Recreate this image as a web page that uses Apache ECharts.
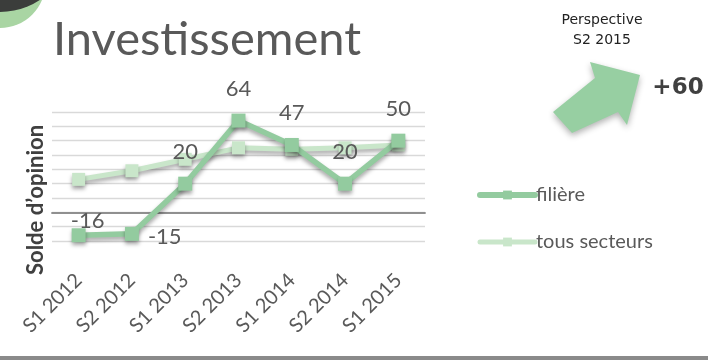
<!DOCTYPE html>
<html>
<head>
<meta charset="utf-8">
<script src="https://cdn.jsdelivr.net/npm/echarts@6/dist/echarts.min.js"></script>
<style>
  html, body { margin: 0; padding: 0; background: #fff; }
  #chart { width: 708px; height: 360px; }
</style>
</head>
<body>
<div id="chart"></div>
<script>
// Semesters on the horizontal axis
const periods = ['S1 2012', 'S2 2012', 'S1 2013', 'S2 2013', 'S1 2014', 'S2 2014', 'S1 2015'];
// Opinion balance for the sector
const filiere = [-16, -15, 20, 64, 47, 20, 50];
// Opinion balance across all sectors
const tousSecteurs = [23, 29, 37, 45, 44, 45, 47];
// Outlook for the next semester
const perspectiveLabel = 'Perspective\nS2 2015';
const perspectiveValue = '+60';

const GREEN = '#93cb9f';
const LIGHT = '#c9e6ca';
const TEXT = '#595959';
const AXIS = '#8a8a8a';
const FONT = 'Lato, "Noto Sans", sans-serif';

// plot area and value range
const GRID = { left: 52, right: 283, top: 112, bottom: 119 };
const Y_MIN = -20, Y_MAX = 70;
const CHART_H = 360;
// distance from the top of the plot down to the zero line
const zeroDrop = (CHART_H - GRID.top - GRID.bottom) * Y_MAX / (Y_MAX - Y_MIN);

const chart = echarts.init(document.getElementById('chart'), null, { renderer: 'canvas' });

const shadow = { shadowColor: 'rgba(0,0,0,0.35)', shadowBlur: 4, shadowOffsetY: 3 };

// label placement tweaks for the two negative points
const filiereData = filiere.map((v, i) => {
  if (i === 0) return { value: v, label: { position: 'top', distance: 2, offset: [9, 6] } };
  if (i === 1) return { value: v, label: { position: 'right', distance: 9, offset: [0, 3] } };
  return v;
});

chart.setOption({
  animation: false,
  title: {
    text: 'Investissement',
    left: 48, top: 11,
    textStyle: { fontFamily: FONT, fontSize: 47, fontWeight: 'normal', color: '#595959' }
  },
  legend: {
    orient: 'vertical',
    left: 472, top: 180,
    itemWidth: 55, itemHeight: 11,
    itemGap: 27,
    textStyle: { fontFamily: FONT, fontSize: 20, color: TEXT, padding: [0, 0, 0, -4] },
    data: [
      { name: 'filière', lineStyle: { width: 6, cap: 'round' } },
      { name: 'tous secteurs', lineStyle: { width: 5, cap: 'round' } }
    ]
  },
  grid: GRID,
  xAxis: [{
    // zero line with downward ticks and the period labels
    type: 'category',
    data: periods,
    boundaryGap: true,
    axisLine: { onZero: true, lineStyle: { color: AXIS, width: 1.5 } },
    axisTick: { interval: 0, alignWithLabel: true, length: 4, lineStyle: { color: AXIS, width: 1.5 } },
    axisLabel: {
      rotate: 45, interval: 0, margin: 36,
      fontFamily: FONT, fontSize: 20, color: TEXT
    },
    splitLine: { show: false }
  }, {
    // upward half of the crossing ticks, brought down onto the zero line
    type: 'category',
    data: periods,
    boundaryGap: true,
    position: 'top',
    offset: -zeroDrop,
    axisLine: { onZero: false, lineStyle: { color: AXIS, width: 1.5 } },
    axisTick: { interval: 0, alignWithLabel: true, length: 6, lineStyle: { color: AXIS, width: 1.5 } },
    axisLabel: { show: false },
    splitLine: { show: false }
  }],
  yAxis: {
    type: 'value',
    min: Y_MIN, max: Y_MAX, interval: 10,
    axisLine: { show: false },
    axisTick: { show: false },
    axisLabel: { show: false },
    splitLine: { lineStyle: { color: '#d9d9d9', width: 1.3 } }
  },
  graphic: [
    // corner badge
    { type: 'circle', shape: { cx: 0, cy: -17.5, r: 45.5 }, style: { fill: '#a9d5a3' }, z: 10 },
    { type: 'circle', shape: { cx: 0, cy: -60, r: 72 }, style: { fill: '#3b3d3b' }, z: 11 },
    // vertical axis title
    {
      type: 'text', x: 36, y: 200, rotation: Math.PI / 2, z: 20,
      style: {
        text: 'Solde d’opinion', align: 'center', verticalAlign: 'middle',
        font: 'bold 22px ' + FONT, fill: '#404040'
      }
    },
    // outlook block
    {
      type: 'text', x: 602, y: 10, z: 20,
      style: {
        text: perspectiveLabel, align: 'center', verticalAlign: 'top',
        font: '14px "DejaVu Sans", Verdana, sans-serif', fill: '#222', lineHeight: 20
      }
    },
    {
      type: 'polygon', z: 20,
      shape: { points: [[553, 112], [595, 78], [590, 62], [640, 75], [627, 125], [618, 112], [572, 133]] },
      style: { fill: '#97cfa2', shadowColor: 'rgba(0,0,0,0.3)', shadowBlur: 6, shadowOffsetY: 3 }
    },
    {
      type: 'text', x: 678, y: 88, z: 20,
      style: {
        text: perspectiveValue, align: 'center', verticalAlign: 'middle',
        font: 'bold 23px "DejaVu Sans", Verdana, sans-serif', fill: '#404040'
      }
    },
    // bottom rule
    { type: 'rect', shape: { x: 0, y: 356, width: 708, height: 4 }, style: { fill: '#8a8a8a' }, z: 20 }
  ],
  series: [{
    name: 'tous secteurs',
    type: 'line',
    data: tousSecteurs,
    symbol: 'rect', symbolSize: 13,
    lineStyle: Object.assign({ color: LIGHT, width: 5, cap: 'round' }, shadow),
    itemStyle: Object.assign({ color: LIGHT }, shadow),
    z: 2
  }, {
    name: 'filière',
    type: 'line',
    data: filiereData,
    symbol: 'rect', symbolSize: 14,
    lineStyle: Object.assign({ color: GREEN, width: 5.5, cap: 'round' }, shadow),
    itemStyle: Object.assign({ color: GREEN }, shadow),
    label: {
      show: true, position: 'top', distance: 14,
      fontFamily: FONT, fontSize: 22, color: TEXT
    },
    z: 3
  }]
});
</script>
</body>
</html>
